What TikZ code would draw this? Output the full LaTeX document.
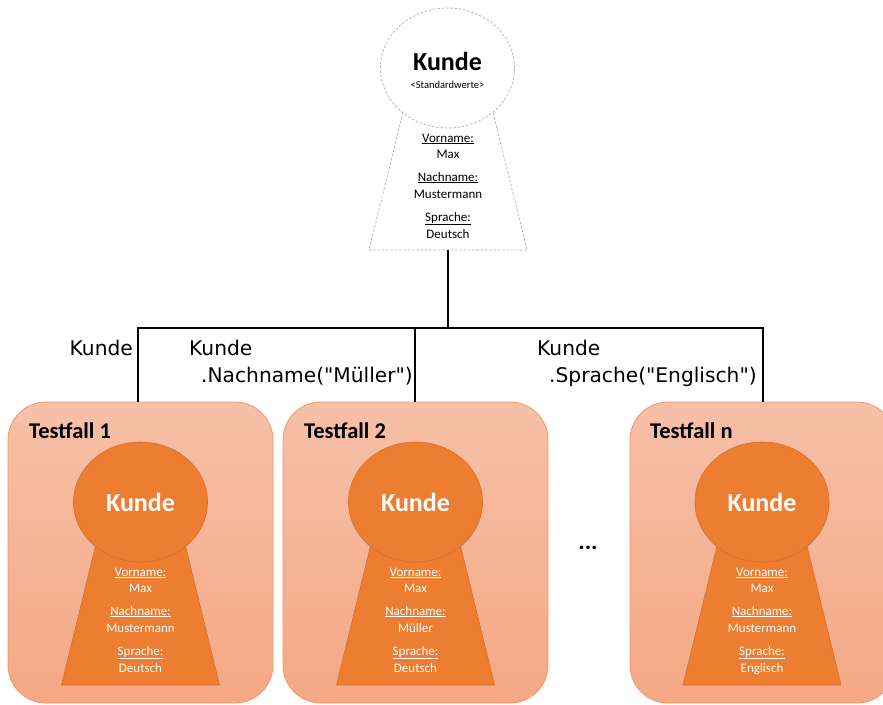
\documentclass[tikz,border=0pt]{standalone}
\usepackage{fontspec}
\setmainfont{Carlito}
\newfontfamily\codefont{DejaVu Sans}
\usetikzlibrary{shapes.geometric}
\definecolor{korange}{RGB}{237,125,49}
\definecolor{kedge}{RGB}{200,100,40}
\definecolor{boxtop}{RGB}{246,192,168}
\definecolor{boxbot}{RGB}{245,168,132}
\definecolor{boxedge}{RGB}{242,150,100}
\definecolor{dashgray}{RGB}{175,175,175}
\tikzset{
  tbox/.style={rectangle, rounded corners=38pt, minimum width=265pt, minimum height=301pt,
    draw=boxedge, line width=0.8pt, top color=boxtop, bottom color=boxbot, inner sep=0pt},
  head/.style={ellipse, minimum width=134pt, minimum height=120pt, inner sep=0pt},
  conn/.style={line width=2.4pt, black, line join=miter},
  code/.style={font=\codefont\fontsize{20.2}{23}\selectfont, inner sep=0pt},
  tlabel/.style={font=\bfseries\fontsize{22.5}{26}\selectfont, inner sep=0pt, anchor=base west},
  ftxt/.style={font=\fontsize{13}{15}\selectfont, inner sep=0pt, anchor=base},
}
\newcommand{\fieldtexts}[4]{% x, centery, nachname, sprache
  \node[ftxt] at (#1,#2+74) {\underline{Vorname:}};
  \node[ftxt] at (#1,#2+90) {Max};
  \node[ftxt] at (#1,#2+113) {\underline{Nachname:}};
  \node[ftxt] at (#1,#2+130) {#3};
  \node[ftxt] at (#1,#2+153) {\underline{Sprache:}};
  \node[ftxt] at (#1,#2+170) {#4};
}
\newcommand{\orangekey}[5]{% name, x, y, nachname, sprache
  \fill[korange] (#2-44,#3+40) -- (#2-79,#3+183) -- (#2+79,#3+183) -- (#2+44,#3+40) -- cycle;
  \draw[kedge!60!korange, line width=0.6pt] (#2-44,#3+40) -- (#2-79,#3+183) -- (#2+79,#3+183) -- (#2+44,#3+40);
  \node[head, fill=korange, draw=kedge!60!korange, line width=0.6pt,
        font=\bfseries\fontsize{26}{30}\selectfont, text=white] (#1) at (#2,#3) {Kunde};
  \begin{scope}[every node/.append style={text=white}]
    \fieldtexts{#2}{#3}{#4}{#5}
  \end{scope}
}
\begin{document}
\begin{tikzpicture}[x=1pt,y=-1pt]
\useasboundingbox (0,0) rectangle (883,704);
\clip (0,0) rectangle (883,704);

% top template keyhole
\draw[dashgray, dashed, dash pattern=on 2.5pt off 1.8pt, fill=white, line width=0.7pt]
  (448-44,68+40) -- (448-79,68+182) -- (448+79,68+182) -- (448+44,68+40);
\node[head, draw=dashgray, dashed, dash pattern=on 2.5pt off 1.8pt, fill=white, line width=0.7pt] (top) at (447.5,68) {};
\node[inner sep=0pt, anchor=base, font=\bfseries\fontsize{26}{30}\selectfont] (topk) at (447.5,70) {Kunde};
\node[inner sep=0pt, anchor=base, font=\fontsize{10.5}{12}\selectfont] (tops) at (447.5,88) {<Standardwerte>};
\fieldtexts{448}{68}{Mustermann}{Deutsch}
\coordinate (tb) at (448,250);

% test case boxes
\node[tbox] (b1) at (140.5,552.5) {};
\node[tbox] (b2) at (415.5,552.5) {};
\node[tbox] (b3) at (762.5,552.5) {};

\node[tlabel] (t1) at (29,438) {Testfall 1};
\node[tlabel] (t2) at (304,438) {Testfall 2};
\node[tlabel] (t3) at (650,438) {Testfall n};

\orangekey{k1}{140.5}{502}{Mustermann}{Deutsch}
\orangekey{k2}{415.5}{502}{Müller}{Deutsch}
\orangekey{k3}{762}{502}{Mustermann}{Englisch}

\node[inner sep=0pt, anchor=base, font=\bfseries\fontsize{24}{26}\selectfont] (dots) at (588,549) {...};

% connectors
\coordinate (bar) at (448,328);
\coordinate (c1) at (138,402);
\coordinate (c2) at (415,402);
\coordinate (c3) at (763,402);
\draw[conn] (tb) -- (bar);
\draw[conn] (c1) -- (c1 |- bar) -- (c3 |- bar) -- (c3);
\draw[conn] (c2) -- (c2 |- bar);

% labels
\node[code, anchor=base east] (l1) at (133,355) {Kunde};
\node[code, anchor=base west] (l2a) at (189,355) {Kunde};
\node[code, anchor=base west] (l2b) at (201,382) {.Nachname("Müller")};
\node[code, anchor=base west] (l3a) at (537,355) {Kunde};
\node[code, anchor=base west] (l3b) at (549,382) {.Sprache("Englisch")};
\end{tikzpicture}
\end{document}
